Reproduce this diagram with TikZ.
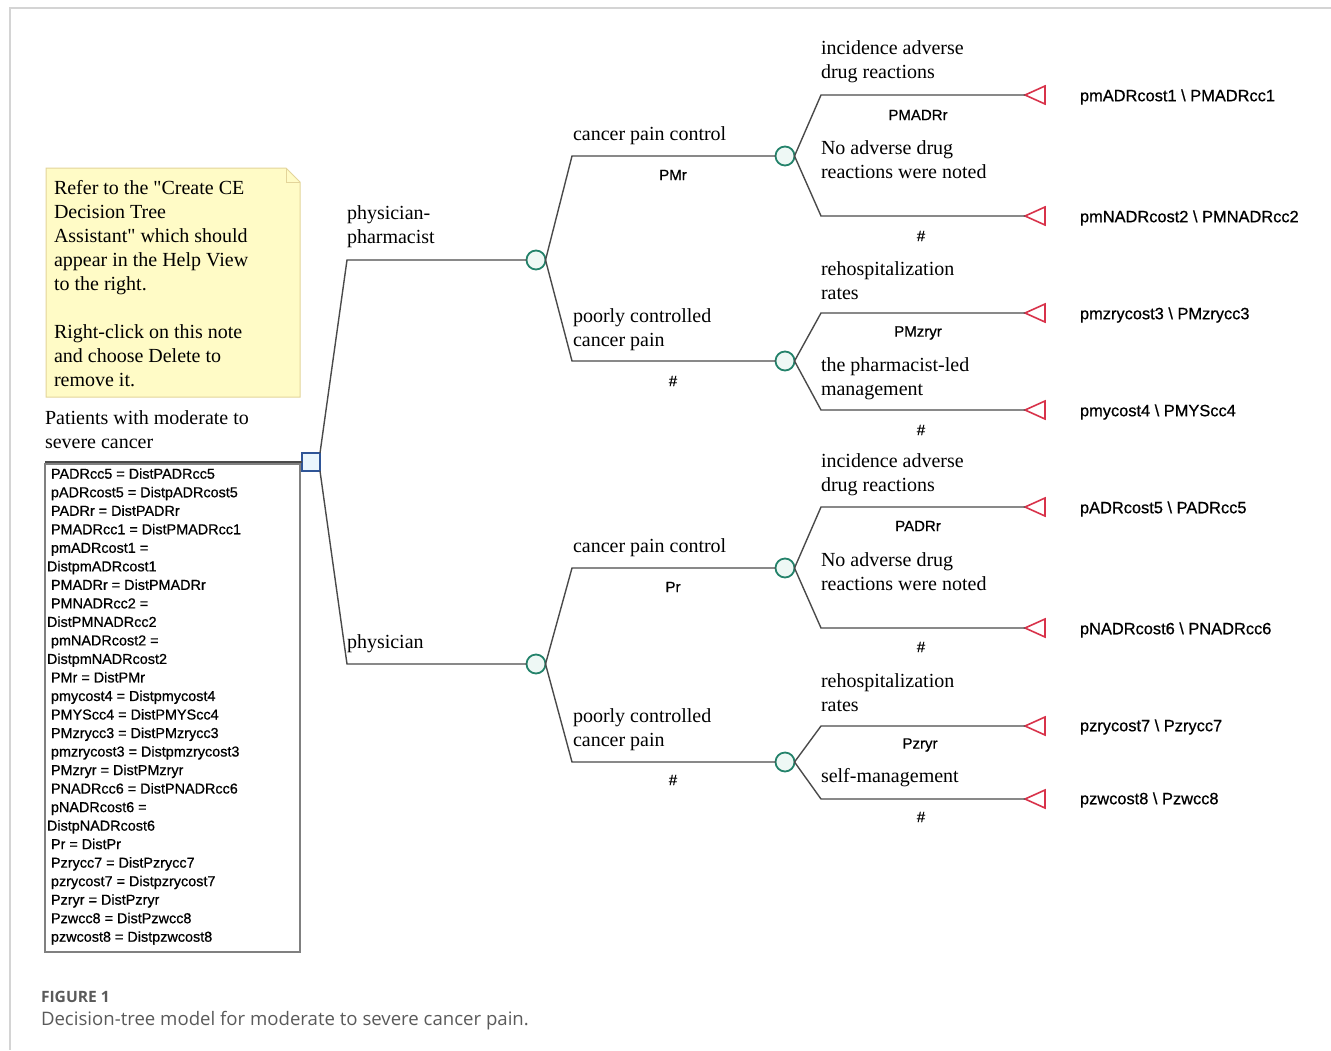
\documentclass[tikz,border=0pt]{standalone}
\usepackage{fontspec}
\setmainfont{Liberation Serif}
\setsansfont{Liberation Sans}[FakeBold=0.7]
\newfontfamily\capfont{Open Sans}
\usepackage{xcolor}
\usepackage{tikz}
\usetikzlibrary{shapes,positioning,calc}
\definecolor{linegray}{HTML}{4A4A4A}
\definecolor{decblue}{HTML}{2F5597}
\definecolor{decfill}{HTML}{EAF6FD}
\definecolor{chgreen}{HTML}{23826A}
\definecolor{chfill}{HTML}{EEF8F5}
\definecolor{termred}{HTML}{D8324A}
\definecolor{notefill}{HTML}{FFFBC6}
\definecolor{noteedge}{HTML}{E3D49A}
\definecolor{framegray}{HTML}{D4D4D4}
\definecolor{capgray}{HTML}{5A5A5A}

\begin{document}
\begin{tikzpicture}[
    x=0.5pt, y=-0.5pt,
    every node/.style={inner sep=0pt, outer sep=0pt},
    branch/.style={draw=linegray, line width=0.7pt},
    decision/.style={rectangle, draw=decblue, fill=decfill, line width=0.9pt, minimum size=9pt},
    chance/.style={circle, draw=chgreen, fill=chfill, line width=0.9pt, minimum size=9.5pt},
    terminal/.style={isosceles triangle, isosceles triangle stretches, shape border rotate=180,
        draw=termred, line width=0.8pt, minimum width=9pt, minimum height=10pt, anchor=apex},
    lbl/.style={font=\fontsize{10}{12}\selectfont, align=left, anchor=west},
    prob/.style={font=\sffamily\fontsize{7.5}{9}\selectfont},
    payoff/.style={font=\sffamily\fontsize{8.2}{10}\selectfont, anchor=west}
]
    \useasboundingbox (0,0) rectangle (1331,1050);
    \draw[framegray, line width=0.8pt] (1331,8) -- (10,8) -- (10,1050);

    % note
    \fill[notefill] (46,168) -- (286,168) -- (300,182) -- (300,397) -- (46,397) -- cycle;
    \draw[noteedge, line width=0.5pt] (46,397) -- (46,168) -- (286,168) -- (300,182) -- (300,397) -- cycle;
    \draw[noteedge, line width=0.5pt] (286,168) -- (286,182) -- (300,182);
    \node[lbl] (note) at (54,283.5) {Refer to the \textquotedbl Create CE\\Decision Tree\\Assistant\textquotedbl{} which should\\appear in the Help View\\to the right.\\[12pt]Right-click on this note\\and choose Delete to\\remove it.};

    % root
    \node[lbl] (rootlbl) at (45,430) {Patients with moderate to\\severe cancer};
    \coordinate (vstart) at (45,462);
    \node[decision] (root) at (311,462) {};
    \draw[branch] (vstart) -- (root);
    \draw[draw=gray, line width=0.6pt] (45,464) rectangle (300,952);
    \node[font=\sffamily\fontsize{7.2}{9.26}\selectfont, align=left, anchor=west] (vars) at (47,706.5) {%
        \hspace{2pt}PADRcc5 = DistPADRcc5\\
        \hspace{2pt}pADRcost5 = DistpADRcost5\\
        \hspace{2pt}PADRr = DistPADRr\\
        \hspace{2pt}PMADRcc1 = DistPMADRcc1\\
        \hspace{2pt}pmADRcost1 =\\
        DistpmADRcost1\\
        \hspace{2pt}PMADRr = DistPMADRr\\
        \hspace{2pt}PMNADRcc2 =\\
        DistPMNADRcc2\\
        \hspace{2pt}pmNADRcost2 =\\
        DistpmNADRcost2\\
        \hspace{2pt}PMr = DistPMr\\
        \hspace{2pt}pmycost4 = Distpmycost4\\
        \hspace{2pt}PMYScc4 = DistPMYScc4\\
        \hspace{2pt}PMzrycc3 = DistPMzrycc3\\
        \hspace{2pt}pmzrycost3 = Distpmzrycost3\\
        \hspace{2pt}PMzryr = DistPMzryr\\
        \hspace{2pt}PNADRcc6 = DistPNADRcc6\\
        \hspace{2pt}pNADRcost6 =\\
        DistpNADRcost6\\
        \hspace{2pt}Pr = DistPr\\
        \hspace{2pt}Pzrycc7 = DistPzrycc7\\
        \hspace{2pt}pzrycost7 = Distpzrycost7\\
        \hspace{2pt}Pzryr = DistPzryr\\
        \hspace{2pt}Pzwcc8 = DistPzwcc8\\
        \hspace{2pt}pzwcost8 = Distpzwcost8};

    % strategies
    \coordinate (bpp) at (347,260);
    \coordinate (bph) at (347,664);
    \node[chance] (cpp) at (536,260) {};
    \node[chance] (cph) at (536,664) {};
    \draw[branch] (root.north east) -- (bpp) -- (cpp);
    \draw[branch] (root.south east) -- (bph) -- (cph);
    \node[lbl] (lpp) at (347,227) {physician-\\pharmacist};
    \node[lbl] (lph) at (347,644) {physician};

    % pain outcomes
    \coordinate (bppc) at (572,156);
    \coordinate (bppp) at (572,361);
    \coordinate (bphc) at (572,568);
    \coordinate (bphp) at (572,762);
    \node[chance] (cppc) at (785,156) {};
    \node[chance] (cppp) at (785,361) {};
    \node[chance] (cphc) at (785,568) {};
    \node[chance] (cphp) at (785,762) {};
    \draw[branch] (cpp.east) -- (bppc) -- (cppc);
    \draw[branch] (cpp.east) -- (bppp) -- (cppp);
    \draw[branch] (cph.east) -- (bphc) -- (cphc);
    \draw[branch] (cph.east) -- (bphp) -- (cphp);
    \node[lbl] (lppc) at (573,136) {cancer pain control};
    \node[prob] (pppc) at (673,175) {PMr};
    \node[lbl] (lppp) at (573,330) {poorly controlled\\cancer pain};
    \node[prob] (pppp) at (673,381) {\#};
    \node[lbl] (lphc) at (573,548) {cancer pain control};
    \node[prob] (pphc) at (673,587) {Pr};
    \node[lbl] (lphp) at (573,730) {poorly controlled\\cancer pain};
    \node[prob] (pphp) at (673,780) {\#};

    % terminal branches
    \coordinate (b1) at (821,95);
    \coordinate (b2) at (821,216);
    \coordinate (b3) at (821,313);
    \coordinate (b4) at (821,410);
    \coordinate (b5) at (821,507);
    \coordinate (b6) at (821,628);
    \coordinate (b7) at (821,726);
    \coordinate (b8) at (821,799);
    \node[terminal] (t1) at (1025,95) {};
    \node[terminal] (t2) at (1025,216) {};
    \node[terminal] (t3) at (1025,313) {};
    \node[terminal] (t4) at (1025,410) {};
    \node[terminal] (t5) at (1025,507) {};
    \node[terminal] (t6) at (1025,628) {};
    \node[terminal] (t7) at (1025,726) {};
    \node[terminal] (t8) at (1025,799) {};
    \draw[branch] (cppc.east) -- (b1) -- (t1.apex);
    \draw[branch] (cppc.east) -- (b2) -- (t2.apex);
    \draw[branch] (cppp.east) -- (b3) -- (t3.apex);
    \draw[branch] (cppp.east) -- (b4) -- (t4.apex);
    \draw[branch] (cphc.east) -- (b5) -- (t5.apex);
    \draw[branch] (cphc.east) -- (b6) -- (t6.apex);
    \draw[branch] (cphp.east) -- (b7) -- (t7.apex);
    \draw[branch] (cphp.east) -- (b8) -- (t8.apex);

    \node[lbl] (l1) at (821,62) {incidence adverse\\drug reactions};
    \node[prob] (p1) at (918,115) {PMADRr};
    \node[lbl] (l2) at (821,160) {No adverse drug\\reactions were noted};
    \node[prob] (p2) at (921,236) {\#};
    \node[lbl] (l3) at (821,281) {rehospitalization\\rates};
    \node[prob] (p3) at (918,333) {PMzryr};
    \node[lbl] (l4) at (821,378.5) {the pharmacist-led\\management};
    \node[prob] (p4) at (921,430) {\#};
    \node[lbl] (l5) at (821,474.5) {incidence adverse\\drug reactions};
    \node[prob] (p5) at (918,526) {PADRr};
    \node[lbl] (l6) at (821,572) {No adverse drug\\reactions were noted};
    \node[prob] (p6) at (921,647) {\#};
    \node[lbl] (l7) at (821,693) {rehospitalization\\rates};
    \node[prob] (p7) at (920,745) {Pzryr};
    \node[lbl] (l8) at (821,778) {self-management};
    \node[prob] (p8) at (921,817) {\#};

    \node[payoff] (v1) at (1080,97) {pmADRcost1 \textbackslash{} PMADRcc1};
    \node[payoff] (v2) at (1080,218) {pmNADRcost2 \textbackslash{} PMNADRcc2};
    \node[payoff] (v3) at (1080,315) {pmzrycost3 \textbackslash{} PMzrycc3};
    \node[payoff] (v4) at (1080,412) {pmycost4 \textbackslash{} PMYScc4};
    \node[payoff] (v5) at (1080,509) {pADRcost5 \textbackslash{} PADRcc5};
    \node[payoff] (v6) at (1080,630) {pNADRcost6 \textbackslash{} PNADRcc6};
    \node[payoff] (v7) at (1080,727) {pzrycost7 \textbackslash{} Pzrycc7};
    \node[payoff] (v8) at (1080,800) {pzwcost8 \textbackslash{} Pzwcc8};

    % caption
    \node[anchor=west, font=\capfont\bfseries\fontsize{7.8}{10}\selectfont, text=capgray] (fig) at (41,997) {FIGURE 1};
    \node[anchor=west, font=\capfont\fontsize{9.3}{11}\selectfont, text=capgray] (cap) at (41,1021) {Decision-tree model for moderate to severe cancer pain.};
\end{tikzpicture}
\end{document}
